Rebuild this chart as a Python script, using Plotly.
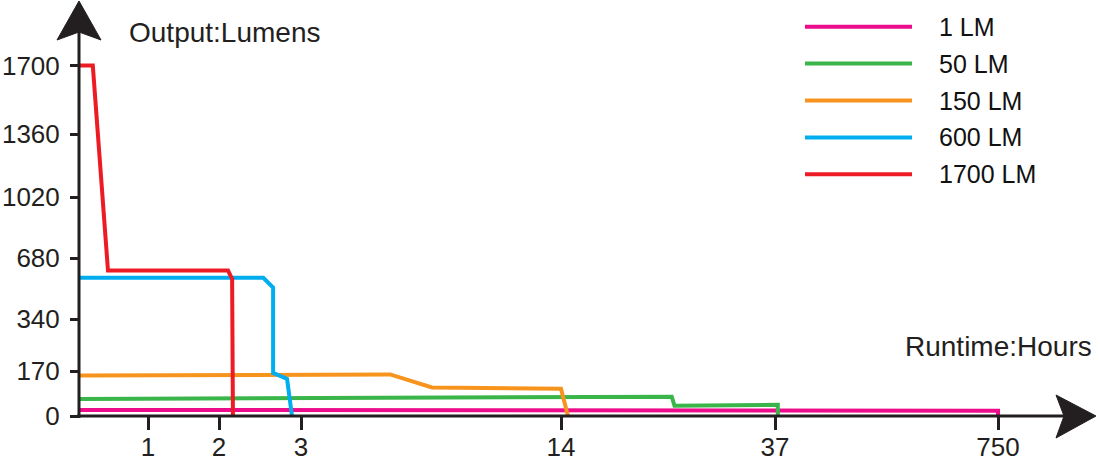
import numpy as np
import plotly.graph_objects as go

# ---------------- data ----------------
series_names = ["1 LM", "50 LM", "150 LM", "600 LM", "1700 LM"]
series_colors = ["#EC0C8C", "#39B54A", "#F7941D", "#00AEEF", "#ED1C24"]

hours_1lm = [0, 750, 750]
lumens_1lm = [23, 20, 0]

hours_50lm = [0, 25.9, 26.2, 46, 46]
lumens_50lm = [64, 73, 39, 42, 0]

hours_150lm = [0, 6.77, 8.54, 14.0, 14.75]
lumens_150lm = [153, 157, 108, 103, 0]

hours_600lm = [0, 2.54, 2.66, 2.66, 2.83, 2.89]
lumens_600lm = [570, 570, 515, 163, 140, 0]

hours_1700lm = [0, 0.2, 0.42, 2.11, 2.16, 2.17]
lumens_1700lm = [1700, 1700, 610, 610, 563, 0]

x_tick_values = [1, 2, 3, 14, 37, 750]
y_tick_values = [0, 170, 340, 680, 1020, 1360, 1700]

x_title = "Runtime:Hours"
y_title = "Output:Lumens"

# ---------------- axis scale (non-uniform, piecewise) ----------------
X_SCALE_VALS = [0, 1, 2, 3, 14, 37, 750]
X_SCALE_POS = [0, 69, 140, 222, 482, 696, 919]
Y_SCALE_VALS = [0, 170, 340, 680, 1020, 1360, 1700]
Y_SCALE_POS = [0, 45, 97, 158, 219, 282, 350.5]


def sx(v):
    return np.interp(v, X_SCALE_VALS, X_SCALE_POS)


def sy(v):
    return np.interp(v, Y_SCALE_VALS, Y_SCALE_POS)


W, H = 1100, 459
OX, OY = 79, 416  # pixel position of origin


def px(xp):
    return xp - OX


def py(yp):
    return OY - yp


INK = "#231F20"
FONT = "Liberation Sans, Arial, sans-serif"

fig = go.Figure()

all_hours = [hours_1lm, hours_50lm, hours_150lm, hours_600lm, hours_1700lm]
all_lumens = [lumens_1lm, lumens_50lm, lumens_150lm, lumens_600lm, lumens_1700lm]

for name, col, h, l in zip(series_names, series_colors, all_hours, all_lumens):
    fig.add_trace(go.Scatter(
        x=sx(h), y=sy(l), mode="lines", name=name,
        line=dict(color=col, width=4),
        customdata=np.column_stack([h, l]),
        hovertemplate="%{customdata[0]} h<br>%{customdata[1]} lm<extra>" + name + "</extra>",
        showlegend=False,
    ))

shapes = []
# axis shafts
shapes.append(dict(type="line", xref="x", yref="y", x0=px(77), x1=px(1066), y0=0, y1=0,
                   line=dict(color=INK, width=3)))
shapes.append(dict(type="line", xref="x", yref="y", x0=0, x1=0, y0=py(418), y1=py(30),
                   line=dict(color=INK, width=3)))


def path(pts):
    return "M " + " L ".join(f"{px(a)},{py(b)}" for a, b in pts) + " Z"


# arrow heads
shapes.append(dict(type="path", xref="x", yref="y",
                   path=path([(79, 1), (101, 40), (79, 32), (57, 40)]),
                   fillcolor=INK, line=dict(color=INK, width=1)))
shapes.append(dict(type="path", xref="x", yref="y",
                   path=path([(1096, 416), (1056, 438), (1064, 416), (1056, 395)]),
                   fillcolor=INK, line=dict(color=INK, width=1)))

annotations = []
# custom legend
for i, (name, col) in enumerate(zip(series_names, series_colors)):
    yy = 26.7 + i * 36.9
    shapes.append(dict(type="line", xref="x", yref="y", x0=px(805), x1=px(912),
                       y0=py(yy), y1=py(yy), line=dict(color=col, width=4)))
    annotations.append(dict(x=px(937), y=py(yy), xref="x", yref="y", text=name,
                            showarrow=False, xanchor="left", yanchor="middle",
                            font=dict(family=FONT, size=25, color="#111")))

annotations.append(dict(x=px(127), y=py(32), xref="x", yref="y", text=y_title,
                        showarrow=False, xanchor="left", yanchor="middle",
                        font=dict(family=FONT, size=28, color=INK)))
annotations.append(dict(x=px(1094), y=py(346), xref="x", yref="y", text=x_title,
                        showarrow=False, xanchor="right", yanchor="middle",
                        font=dict(family=FONT, size=28, color=INK)))

fig.update_layout(
    width=W, height=H,
    margin=dict(l=0, r=0, t=0, b=0, autoexpand=False),
    paper_bgcolor="white", plot_bgcolor="white",
    shapes=shapes, annotations=annotations,
    showlegend=False,
    xaxis=dict(range=[px(0), px(W)], anchor="free", position=(H - OY) / H,
               automargin=False,
               tickmode="array", tickvals=sx(x_tick_values),
               ticktext=[str(v) for v in x_tick_values],
               ticks="outside", ticklen=13, tickwidth=3, tickcolor=INK,
               showgrid=False, zeroline=False, showline=False,
               tickfont=dict(family=FONT, size=26, color=INK),
               ticklabelstandoff=-5,
               fixedrange=True),
    yaxis=dict(range=[py(H), py(0)], anchor="free", position=OX / W,
               automargin=False,
               tickmode="array", tickvals=sy(y_tick_values),
               ticktext=[str(v) for v in y_tick_values],
               ticks="outside", ticklen=9, tickwidth=3, tickcolor=INK,
               showgrid=False, zeroline=False, showline=False,
               tickfont=dict(family=FONT, size=26, color=INK),
               ticklabelstandoff=5,
               fixedrange=True),
)

fig.write_html("out.html", config={"displayModeBar": False},
               post_script="document.body.style.margin='0';document.body.style.overflow='hidden';")
